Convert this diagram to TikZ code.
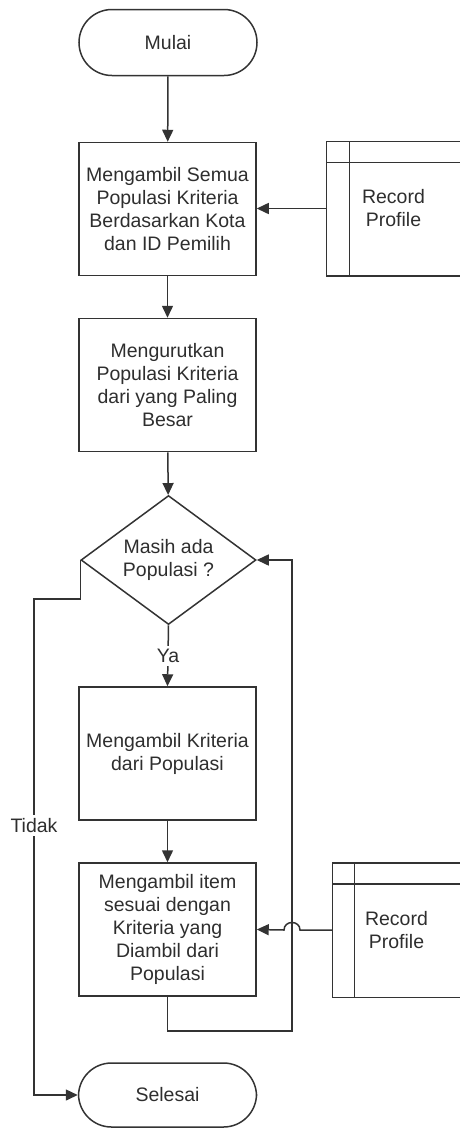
\documentclass[tikz,border=0pt]{standalone}
\usepackage{fontspec}
\setmainfont{Liberation Sans}
\usepackage{tikz}
\usetikzlibrary{arrows.meta,shapes.geometric}
\definecolor{garis}{HTML}{333333}
\definecolor{teks}{HTML}{2E2E2E}

\tikzset{
  proses/.style={draw=garis,rectangle,minimum width=177pt,minimum height=133pt,inner sep=0pt,align=center,text=teks},
  terminal/.style={draw=garis,rectangle,rounded corners=33pt,minimum width=178pt,minimum height=66pt,text=teks},
  keputusan/.style={draw=garis,diamond,aspect=1.36,minimum width=175pt,minimum height=129pt,inner sep=0pt,align=center,text=teks},
  arsip/.style={rectangle,minimum height=133pt,inner sep=0pt,align=center,text=teks},
  panah/.style={draw=garis,-{Triangle[length=12pt,width=11pt]}}
}

\begin{document}
\begin{tikzpicture}[x=1pt,y=-1pt,line width=1.5pt,font=\fontsize{19.5pt}{23pt}\selectfont]
  \useasboundingbox (0,0) rectangle (460,1128);
  \node[terminal] (mulai) at (168,42.5) {Mulai};
  \node[proses] (ambil) at (167.5,209) {Mengambil Semua\\Populasi Kriteria\\Berdasarkan Kota\\dan ID Pemilih};
  \node[arsip,minimum width=133pt] (rec1) at (393.5,208.5) {Record\\Profile};
  \node[proses] (urut) at (167.5,385) {Mengurutkan\\Populasi Kriteria\\dari yang Paling\\Besar};
  \node[keputusan] (cek) at (168.5,560) {Masih ada\\Populasi ?};
  \node[proses] (kriteria) at (167.5,753.5) {Mengambil Kriteria\\dari Populasi};
  \node[proses] (item) at (167.5,929.5) {Mengambil item\\sesuai dengan\\Kriteria yang\\Diambil dari\\Populasi};
  \node[arsip,minimum width=127pt] (rec2) at (396.5,930) {Record\\Profile};
  \node[terminal,minimum height=64pt] (selesai) at (167.5,1095) {Selesai};
  \coordinate (balik) at (292,1031);
  \coordinate (kiri) at (34,599);

  \draw[garis] (rec1.north east) -- (rec1.north west) -- (rec1.south west) -- (rec1.south east);
  \draw[garis] ([yshift=-21pt]rec1.north west) -- ([yshift=-21pt]rec1.north east);
  \draw[garis] ([xshift=23pt]rec1.north west) -- ([xshift=23pt]rec1.south west);
  \draw[garis] (rec2.north east) -- (rec2.north west) -- (rec2.south west) -- (rec2.south east);
  \draw[garis] ([yshift=-21pt]rec2.north west) -- ([yshift=-21pt]rec2.north east);
  \draw[garis] ([xshift=22pt]rec2.north west) -- ([xshift=22pt]rec2.south west);

  \draw[panah] (mulai) -- (ambil);
  \draw[panah] (rec1.west) -- (rec1.west -| ambil.east);
  \draw[panah] (ambil) -- (urut);
  \draw[panah] (urut) -- (cek);
  \draw[panah] (cek.south) -- node[fill=white,text=teks] {Ya} (kriteria.north);
  \draw[panah] (kriteria) -- (item);
  \draw[panah] (rec2.west) -- (300,930) .. controls (300,920) and (284,920) .. (284,930) -- (item.east);
  \draw[panah] (item.south) |- (balik) |- (cek.east);
  \draw[panah] (cek.west) |- (kiri) -- node[fill=white,pos=0.456,text=teks] {Tidak} (kiri |- selesai.west) -- (selesai.west);
\end{tikzpicture}
\end{document}
